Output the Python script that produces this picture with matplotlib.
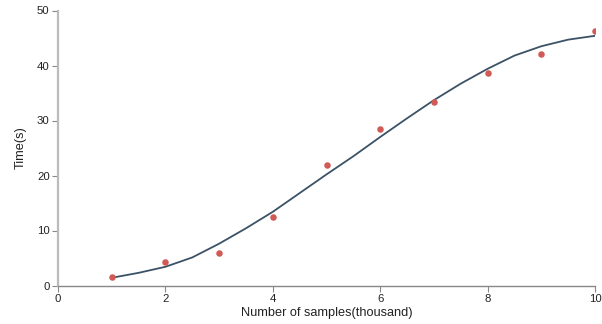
import matplotlib
matplotlib.use("Agg")
import matplotlib.pyplot as plt

plt.rcParams['font.family'] = ['Liberation Sans', 'DejaVu Sans']

sample_x = [1, 2, 3, 4, 5, 6, 7, 8, 9, 10]
sample_time = [1.6, 4.2, 5.85, 12.4, 22.0, 28.45, 33.4, 38.7, 42.15, 46.3]

fit_x = [1, 1.5, 2, 2.5, 3, 3.5, 4, 4.5, 5, 5.5, 6, 6.5, 7, 7.5, 8, 8.5, 9, 9.5, 10]
fit_time = [1.4, 2.3, 3.4, 5.1, 7.6, 10.4, 13.4, 16.8, 20.2, 23.5, 27.0, 30.4,
            33.7, 36.7, 39.4, 41.8, 43.5, 44.7, 45.4]

x_ticks = [0, 2, 4, 6, 8, 10]
y_ticks = [0, 10, 20, 30, 40, 50]

fig = plt.figure(figsize=(6.02, 3.24), dpi=100)
ax = fig.add_axes([58/602, 1 - 285.5/324, (595-58)/602, (285.5-10.5)/324])

ax.plot(fit_x, fit_time, color='#3b5266', lw=1.3, zorder=2)
ax.scatter(sample_x, sample_time, s=22, color='#d25a56', zorder=3, linewidths=0)

ax.set_xlim(0, 10)
ax.set_ylim(0, 50)
ax.set_xticks(x_ticks)
ax.set_yticks(y_ticks)
ax.tick_params(axis='both', labelsize=8.2, length=4, width=0.8, pad=2)
ax.tick_params(axis='x', colors='#888888', labelcolor='#222222')
ax.tick_params(axis='y', colors='#888888', labelcolor='#222222')
for s in ['top', 'right']:
    ax.spines[s].set_visible(False)
ax.spines['bottom'].set_color('#888888')
ax.spines['bottom'].set_linewidth(1.0)
ax.spines['left'].set_color('#bbbbbb')
ax.spines['left'].set_linewidth(1.6)

ax.set_xlabel('Number of samples(thousand)', fontsize=9.2, color='#222222')
ax.set_ylabel('Time(s)', fontsize=9.2, color='#222222')
ax.xaxis.set_label_coords(0.5, -(307 - 285.5) / 275)
ax.yaxis.set_label_coords(-(58 - 27) / 537, 0.5)

fig.savefig('out.png', dpi=100)
